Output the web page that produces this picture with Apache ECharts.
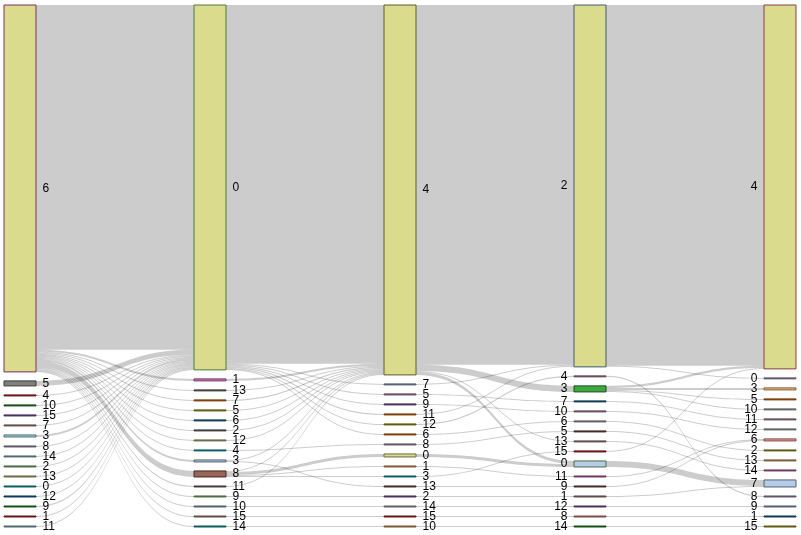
<!DOCTYPE html>
<html>
<head>
<meta charset="utf-8">
<script src="https://cdn.jsdelivr.net/npm/echarts@6/dist/echarts.min.js"></script>
<style>
  html, body { margin: 0; padding: 0; background: #fff; }
  #chart { width: 801px; height: 535px; }
</style>
</head>
<body>
<div id="chart"></div>
<script>
// node order in each column, top to bottom
const layer0 = ['6', '5', '4', '10', '15', '7', '3', '8', '14', '2', '13', '0', '12', '9', '1', '11']
const layer1 = ['0', '1', '13', '7', '5', '6', '2', '12', '4', '3', '8', '11', '9', '10', '15', '14']
const layer2 = ['4', '7', '5', '9', '11', '12', '6', '8', '0', '1', '3', '13', '2', '14', '15', '10']
const layer3 = ['2', '4', '3', '7', '10', '6', '5', '13', '15', '0', '11', '9', '1', '12', '8', '14']
const layer4 = ['4', '0', '3', '5', '10', '11', '12', '6', '2', '13', '14', '7', '8', '9', '1', '15']

// flows between neighbouring columns: [source, target, value]
const links01 = [
  ['6', '0', 343], ['6', '1', 2], ['6', '13', 1], ['6', '7', 1], ['6', '5', 1], ['6', '6', 1],
  ['6', '2', 1], ['6', '12', 1], ['6', '4', 1], ['6', '3', 2], ['6', '8', 6], ['6', '11', 1],
  ['6', '9', 1], ['6', '10', 1], ['6', '15', 1], ['6', '14', 1],
  ['5', '0', 5], ['4', '0', 1], ['10', '0', 1], ['15', '0', 1], ['7', '0', 1], ['3', '0', 2],
  ['8', '0', 1], ['14', '0', 1], ['2', '0', 1], ['13', '0', 1], ['0', '0', 1], ['12', '0', 1],
  ['9', '0', 1], ['1', '0', 1], ['11', '0', 1],
]
const links12 = [
  ['0', '4', 357], ['0', '7', 1], ['0', '5', 1], ['0', '9', 1], ['0', '11', 1], ['0', '12', 1], ['0', '6', 1],
  ['1', '4', 2], ['13', '4', 1], ['7', '4', 1], ['5', '4', 1], ['6', '4', 1], ['2', '4', 1], ['12', '4', 1],
  ['4', '8', 1], ['3', '4', 1], ['3', '13', 1],
  ['8', '4', 1], ['8', '0', 3], ['8', '1', 1], ['8', '3', 1],
  ['11', '4', 1], ['9', '2', 1], ['10', '14', 1], ['15', '15', 1], ['14', '10', 1],
]
const links23 = [
  ['4', '2', 358], ['4', '3', 6], ['4', '0', 3], ['4', '13', 1],
  ['7', '2', 1], ['5', '7', 1], ['9', '10', 1], ['11', '2', 1], ['12', '4', 1], ['6', '6', 1],
  ['8', '5', 1], ['0', '0', 3], ['1', '11', 1], ['3', '15', 1], ['13', '9', 1], ['2', '1', 1],
  ['14', '12', 1], ['15', '8', 1], ['10', '14', 1],
]
const links34 = [
  ['2', '4', 359], ['2', '0', 1], ['4', '8', 1],
  ['3', '3', 2], ['3', '4', 2], ['3', '5', 1], ['3', '10', 1],
  ['7', '11', 1], ['10', '12', 1], ['6', '2', 1], ['5', '13', 1], ['13', '14', 1], ['15', '4', 1],
  ['0', '7', 6], ['11', '6', 1], ['9', '6', 1], ['1', '7', 1], ['12', '9', 1], ['8', '1', 1], ['14', '15', 1],
]

// node colours, same order as the columns above
const fills = [
  ['#dbdb8d', '#7f7f7f', '#691313', '#154e15', '#48325c', '#604c48', '#9edae5', '#605668',
    '#4d6b70', '#4a6d43', '#6b6b45', '#0b5d65', '#0f3a58', '#154e15', '#691313', '#4d6b70'],
  ['#dbdb8d', '#e377c2', '#3e3e3e', '#7d3e07', '#5c5c10', '#0f3a58', '#3e3e3e', '#6b6b45',
    '#0b5d65', '#aec7e8', '#9b6458', '#3e3e3e', '#4a6d43', '#556171', '#604c48', '#0b5d65'],
  ['#dbdb8d', '#556171', '#6a4a5a', '#48325c', '#7d3e07', '#5c5c10', '#7d3e07', '#605668',
    '#dbdb8d', '#7d5b3a', '#0b5d65', '#442a24', '#48325c', '#616161', '#691313', '#7d5b3a'],
  ['#dbdb8d', '#6a4a5a', '#3fa83f', '#0f3a58', '#6a4a5a', '#616161', '#442a24', '#604c48',
    '#691313', '#b5cbe8', '#6f3a5f', '#442a24', '#604c48', '#48325c', '#7d4a49', '#154e15'],
  ['#dbdb8d', '#605668', '#ffbb78', '#7d3e07', '#616161', '#6a4a5a', '#616161', '#ff9896',
    '#5c5c10', '#7d5b3a', '#6f3a5f', '#b5cbe8', '#605668', '#556171', '#0f3a58', '#5c5c10'],
]
const strokes = [
  ['#7a2e5c', '#3e3e3e', '#691313', '#154e15', '#48325c', '#604c48', '#4d6b70', '#605668',
    '#4d6b70', '#4a6d43', '#6b6b45', '#0b5d65', '#0f3a58', '#154e15', '#691313', '#4d6b70'],
  ['#4a7a3a', '#6f3a5f', '#3e3e3e', '#7d3e07', '#5c5c10', '#0f3a58', '#3e3e3e', '#6b6b45',
    '#0b5d65', '#556171', '#442a24', '#3e3e3e', '#4a6d43', '#556171', '#604c48', '#0b5d65'],
  ['#5c5c30', '#556171', '#6a4a5a', '#48325c', '#7d3e07', '#5c5c10', '#7d3e07', '#605668',
    '#6b6b45', '#7d5b3a', '#0b5d65', '#442a24', '#48325c', '#616161', '#691313', '#7d5b3a'],
  ['#3e5c6e', '#6a4a5a', '#154e15', '#0f3a58', '#6a4a5a', '#616161', '#442a24', '#604c48',
    '#691313', '#4a6d43', '#6f3a5f', '#442a24', '#604c48', '#48325c', '#7d4a49', '#154e15'],
  ['#8a4040', '#605668', '#7d5b3a', '#7d3e07', '#616161', '#6a4a5a', '#616161', '#7d4a49',
    '#5c5c10', '#7d5b3a', '#6f3a5f', '#556171', '#605668', '#556171', '#0f3a58', '#5c5c10'],
]

const layers = [layer0, layer1, layer2, layer3, layer4]
const transitions = [links01, links12, links23, links34]

const nodes = []
layers.forEach((names, depth) => {
  names.forEach((n, i) => {
    nodes.push({
      name: depth + '-' + n,
      depth: depth,
      itemStyle: { color: fills[depth][i], borderColor: strokes[depth][i] },
      label: { position: depth >= 3 ? 'left' : 'right' },
    })
  })
})

const links = []
transitions.forEach((list, d) => {
  list.forEach(([s, t, v]) => {
    links.push({ source: d + '-' + s, target: (d + 1) + '-' + t, value: v })
  })
})

const chart = echarts.init(document.getElementById('chart'))
chart.setOption({
  animation: false,
  backgroundColor: '#fff',
  series: [
    {
      type: 'sankey',
      left: 4,
      right: 5,
      top: 5,
      bottom: 8,
      nodeWidth: 32,
      nodeGap: 9,
      layoutIterations: 0,
      draggable: false,
      emphasis: { disabled: true },
      label: {
        fontSize: 12,
        fontFamily: 'Liberation Sans, Arial, sans-serif',
        color: '#000',
        distance: 6,
        formatter: p => p.name.split('-')[1],
      },
      itemStyle: { borderWidth: 1 },
      lineStyle: { color: '#000', opacity: 0.2, curveness: 0.5 },
      data: nodes,
      links: links,
    },
  ],
})
</script>
</body>
</html>
